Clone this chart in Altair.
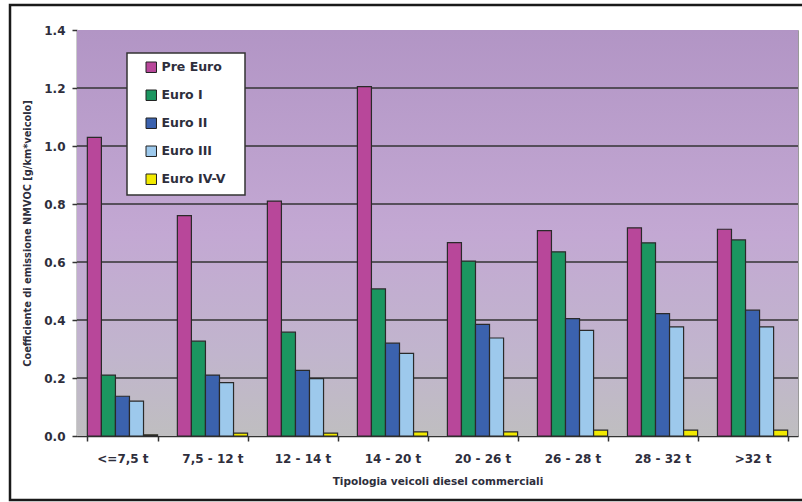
import altair as alt
import pandas as pd

categories = ["<=7,5 t", "7,5 - 12 t", "12 - 14 t", "14 - 20 t",
              "20 - 26 t", "26 - 28 t", "28 - 32 t", ">32 t"]
series = ["Pre Euro", "Euro I", "Euro II", "Euro III", "Euro IV-V"]
pre_euro = [1.03, 0.76, 0.81, 1.205, 0.667, 0.708, 0.718, 0.713]
euro_1 = [0.21, 0.327, 0.358, 0.507, 0.603, 0.635, 0.666, 0.676]
euro_2 = [0.137, 0.21, 0.226, 0.32, 0.385, 0.405, 0.422, 0.434]
euro_3 = [0.12, 0.184, 0.198, 0.285, 0.338, 0.364, 0.376, 0.376]
euro_45 = [0.004, 0.01, 0.01, 0.014, 0.014, 0.02, 0.02, 0.02]
colors = ["#B8479A", "#1B9660", "#3B62AE", "#9DC9EC", "#F2EA00"]
y_ticks = [0, 0.2, 0.4, 0.6, 0.8, 1.0, 1.2, 1.4]
grid_values = [0.2, 0.4, 0.6, 0.8, 1.0, 1.2]

rows = []
for s, vals in zip(series, [pre_euro, euro_1, euro_2, euro_3, euro_45]):
    for c, v in zip(categories, vals):
        rows.append({"cat": c, "serie": s, "val": v})
df = pd.DataFrame(rows)
grid_df = pd.DataFrame({"val": grid_values})

W, H = 721, 406
FONT = "DejaVu Sans"
TXT = "#2e2e3c"

y_scale = alt.Scale(domain=[0, 1.4], nice=False)
y_axis = alt.Axis(title="Coefficiente di emissione NMVOC [g/km*veicolo]",
                  values=y_ticks, format=".1f", grid=False, tickSize=5,
                  labelPadding=7, titlePadding=11,
                  labelFontSize=12, labelFontWeight="bold",
                  titleFontSize=9.8, titleFontWeight="bold")

background = alt.Chart(pd.DataFrame({"a": [0]})).mark_rect(
    fill=alt.Gradient(
        gradient="linear", x1=0, x2=0, y1=0, y2=1,
        stops=[alt.GradientStop(color="#B295C5", offset=0),
               alt.GradientStop(color="#C3A8D3", offset=0.5),
               alt.GradientStop(color="#C1B5CD", offset=0.8),
               alt.GradientStop(color="#BFBEC0", offset=1)]),
).encode(x=alt.value(0), x2=alt.value(W), y=alt.value(0), y2=alt.value(H))

frame = alt.Chart(pd.DataFrame({"a": [0]})).mark_rect(
    fill=None, stroke="#1a1a1a", strokeWidth=2.5
).encode(x=alt.value(-67), x2=alt.value(740), y=alt.value(-25), y2=alt.value(470))

grid = alt.Chart(grid_df).mark_rule(color="#333333", strokeWidth=1.5).encode(
    y=alt.Y("val:Q", scale=y_scale, axis=y_axis)
)

bars = alt.Chart(df).mark_bar(stroke="#2a2a2a", strokeWidth=1.2).encode(
    x=alt.X("cat:N", sort=categories,
            scale=alt.Scale(paddingInner=0.22, paddingOuter=0.115),
            axis=alt.Axis(title="Tipologia veicoli diesel commerciali",
                          labelAngle=0, tickBand="extent", tickSize=5,
                          labelPadding=12, titlePadding=12,
                          labelFontSize=12, labelFontWeight="bold",
                          titleFontSize=10.5, titleFontWeight="bold")),
    xOffset=alt.XOffset("serie:N", sort=series,
                        scale=alt.Scale(paddingInner=0, paddingOuter=0)),
    y=alt.Y("val:Q", scale=y_scale, axis=y_axis),
    color=alt.Color("serie:N", sort=series,
                    scale=alt.Scale(domain=series, range=colors),
                    legend=alt.Legend(title="\u00a0", titleOrient="right",
                                      titlePadding=12, titleFontSize=8,
                                      orient="none",
                                      legendX=50, legendY=23,
                                      fillColor="white", strokeColor="#333333",
                                      padding=8, symbolOffset=10,
                                      symbolType="square", symbolSize=110,
                                      symbolStrokeColor="#222222",
                                      symbolStrokeWidth=1,
                                      labelFontSize=12.5, labelFontWeight="bold",
                                      labelColor=TXT, labelOffset=4,
                                      labelLimit=200,
                                      rowPadding=13)),
)

chart = alt.layer(background, grid, bars, frame).properties(
    width=W, height=H,
    autosize=alt.AutoSizeParams(type="none"),
    padding={"left": 77, "top": 30, "right": 4, "bottom": 66},
    background="white",
).configure_view(stroke="#999999", strokeWidth=1).configure_axis(
    labelFont=FONT, titleFont=FONT, labelColor=TXT, titleColor=TXT,
    domainColor="#333333", tickColor="#333333", domainWidth=1.5, tickWidth=1.5,
).configure_legend(labelFont=FONT, strokeWidth=1.5)

chart.save("out.html", embed_options={"renderer": "svg", "actions": False})
